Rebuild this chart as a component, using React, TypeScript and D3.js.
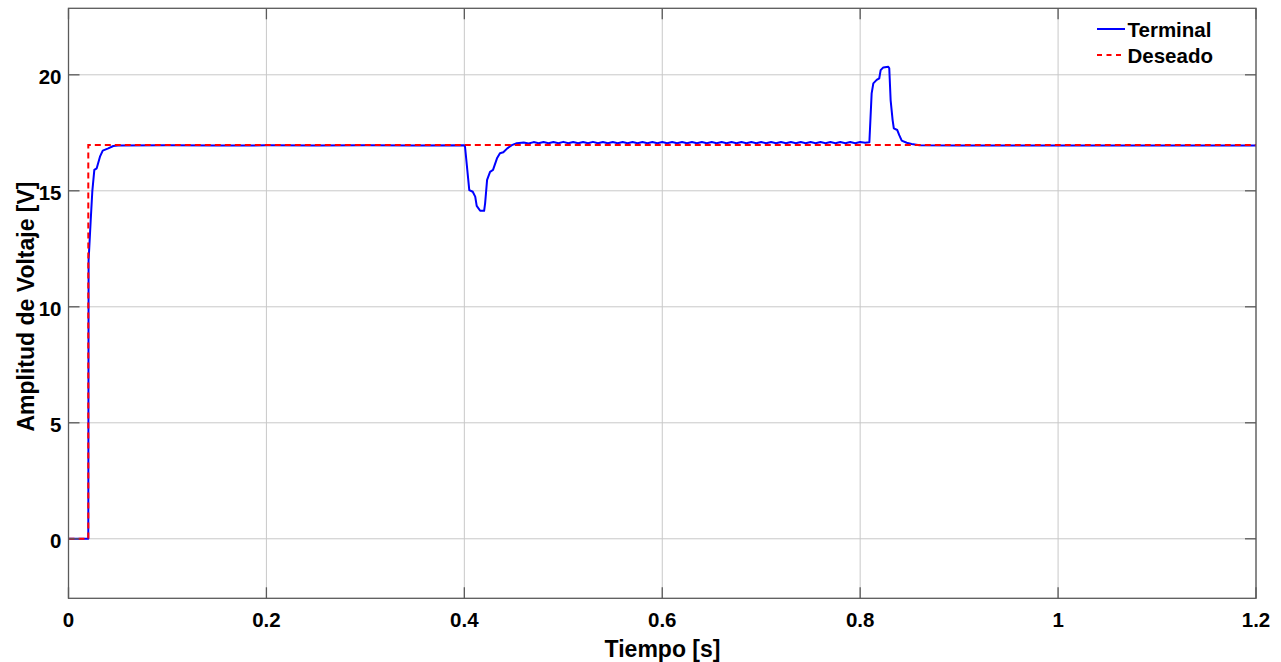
import React from "react";
import * as d3 from "d3";

const W = 1281;
const H = 662;

const xTicks = [0, 0.2, 0.4, 0.6, 0.8, 1, 1.2];
const yTicks = [0, 5, 10, 15, 20];

const termTime = [
  0, 0.02, 0.0203, 0.0224, 0.0241, 0.0261, 0.0285, 0.0318, 0.0346, 0.0402, 0.0453, 0.05,
  0.1, 0.15, 0.2, 0.25, 0.3, 0.35, 0.4,
  0.4007, 0.405, 0.4085, 0.411, 0.4125, 0.416, 0.42, 0.421, 0.423, 0.426, 0.429,
  0.433, 0.436, 0.4394, 0.4434, 0.448, 0.453,
  0.46, 0.465, 0.47, 0.475, 0.48, 0.485, 0.49, 0.495, 0.5, 0.505, 0.51, 0.515,
  0.52, 0.525, 0.53, 0.535, 0.54, 0.545, 0.55, 0.555, 0.56, 0.565, 0.57, 0.575,
  0.58, 0.585, 0.59, 0.595, 0.6, 0.605, 0.61, 0.615, 0.62, 0.625, 0.63, 0.635,
  0.64, 0.645, 0.65, 0.655, 0.66, 0.665, 0.67, 0.675, 0.68, 0.685, 0.69, 0.695,
  0.7, 0.705, 0.71, 0.715, 0.72, 0.725, 0.73, 0.735, 0.74, 0.745, 0.75, 0.755,
  0.76, 0.765, 0.77, 0.775, 0.78, 0.785, 0.79, 0.795, 0.8, 0.805,
  0.8093, 0.8116, 0.8133, 0.8167, 0.8193, 0.8207, 0.8234, 0.8284, 0.8294,
  0.8308, 0.8328, 0.834, 0.8375, 0.8395, 0.842, 0.847, 0.852, 0.86,
  0.9, 1.0, 1.1, 1.2,
];

const termValue = [
  0, 0, 12, 13.7, 15, 15.9, 15.97, 16.47, 16.73, 16.83, 16.93, 16.95,
  16.96, 16.95, 16.96, 16.95, 16.96, 16.95, 16.96,
  16.9, 15.03, 14.96, 14.75, 14.35, 14.14, 14.14, 14.46, 15.47, 15.82, 15.9,
  16.4, 16.62, 16.66, 16.83, 16.97, 17.05,
  17.08, 17.04, 17.1, 17.05, 17.1, 17.05, 17.1, 17.05, 17.11, 17.05, 17.1, 17.05,
  17.1, 17.05, 17.11, 17.05, 17.1, 17.05, 17.1, 17.05, 17.1, 17.05, 17.1, 17.05,
  17.1, 17.05, 17.1, 17.05, 17.1, 17.05, 17.1, 17.05, 17.1, 17.05, 17.1, 17.05,
  17.1, 17.05, 17.1, 17.05, 17.1, 17.05, 17.1, 17.05, 17.1, 17.05, 17.1, 17.05,
  17.1, 17.05, 17.1, 17.05, 17.1, 17.05, 17.1, 17.05, 17.1, 17.05, 17.1, 17.05,
  17.1, 17.05, 17.1, 17.05, 17.1, 17.05, 17.1, 17.05, 17.1, 17.07,
  17.09, 19.2, 19.63, 19.78, 19.85, 20.2, 20.32, 20.35, 20.28,
  18.9, 18.05, 17.69, 17.62, 17.4, 17.16, 17.07, 17.02, 16.96,
  16.95, 16.95, 16.95, 16.95,
];

const desTime = [0, 0.02, 0.02, 1.2];
const desValue = [0, 0, 16.97, 16.97];

const series = [
  { name: "Terminal", color: "#0000ff", dash: "none" },
  { name: "Deseado", color: "#ff0000", dash: "6,4" },
];

export default function App() {
  const left = 68.5;
  const right = 1256;
  const top = 8.3;
  const bottom = 598.3;

  const x = d3.scaleLinear().domain([0, 1.2]).range([left, right]);
  const y = d3.scaleLinear().domain([-2.565, 22.867]).range([bottom, top]);

  const line = d3
    .line<[number, number]>()
    .x((d) => x(d[0]))
    .y((d) => y(d[1]));

  const termPts = termTime.map((t, i) => [t, termValue[i]] as [number, number]);
  const desPts = desTime.map((t, i) => [t, desValue[i]] as [number, number]);

  const axisColor = "#5a5a5a";
  const gridColor = "#c8c8c8";
  const font = "'Liberation Sans', Arial, sans-serif";
  const tickLen = 11;

  return (
    <svg
      width={W}
      height={H}
      style={{ position: "absolute", left: 0, top: 0, display: "block", background: "#fff" }}
      fontFamily={font}
    >
      <rect x={0} y={0} width={W} height={H} fill="#fff" />
      {/* grid */}
      {xTicks.map((t) => (
        <line key={"gx" + t} x1={x(t)} x2={x(t)} y1={top} y2={bottom} stroke={gridColor} strokeWidth={1} />
      ))}
      {yTicks.map((t) => (
        <line key={"gy" + t} x1={left} x2={right} y1={y(t)} y2={y(t)} stroke={gridColor} strokeWidth={1} />
      ))}
      {/* data */}
      <path d={line(termPts) || ""} fill="none" stroke={series[0].color} strokeWidth={2} strokeLinejoin="round" />
      <path d={line(desPts) || ""} fill="none" stroke={series[1].color} strokeWidth={2} strokeDasharray={series[1].dash} />
      {/* box */}
      <rect x={left} y={top} width={right - left} height={bottom - top} fill="none" stroke={axisColor} strokeWidth={1.3} />
      {/* ticks */}
      {xTicks.map((t) => (
        <g key={"tx" + t}>
          <line x1={x(t)} x2={x(t)} y1={bottom} y2={bottom - tickLen} stroke={axisColor} strokeWidth={1.3} />
          <line x1={x(t)} x2={x(t)} y1={top} y2={top + tickLen} stroke={axisColor} strokeWidth={1.3} />
          <text x={x(t)} y={626.7} textAnchor="middle" fontSize={20.5} fontWeight="bold" fill="#000">
            {String(t)}
          </text>
        </g>
      ))}
      {yTicks.map((t) => (
        <g key={"ty" + t}>
          <line x1={left} x2={left + tickLen} y1={y(t)} y2={y(t)} stroke={axisColor} strokeWidth={1.3} />
          <line x1={right} x2={right - tickLen} y1={y(t)} y2={y(t)} stroke={axisColor} strokeWidth={1.3} />
          <text x={61.5} y={y(t) + 9} textAnchor="end" fontSize={20.5} fontWeight="bold" fill="#000">
            {String(t)}
          </text>
        </g>
      ))}
      {/* axis labels */}
      <text x={662.5} y={656.7} textAnchor="middle" fontSize={23} fontWeight="bold" fill="#000">
        Tiempo [s]
      </text>
      <text
        transform={`translate(34, 306.5) rotate(-90)`}
        textAnchor="middle"
        fontSize={23}
        fontWeight="bold"
        fill="#000"
      >
        Amplitud de Voltaje [V]
      </text>
      {/* legend */}
      {series.map((s, i) => (
        <g key={s.name}>
          <line
            x1={1097}
            x2={1125}
            y1={29 + i * 26}
            y2={29 + i * 26}
            stroke={s.color}
            strokeWidth={2}
            strokeDasharray={s.dash === "none" ? undefined : "5,4.5"}
          />
          <text x={1127.5} y={36.7 + i * 26.6} fontSize={20.5} fontWeight="bold" fill="#000">
            {s.name}
          </text>
        </g>
      ))}
    </svg>
  );
}
